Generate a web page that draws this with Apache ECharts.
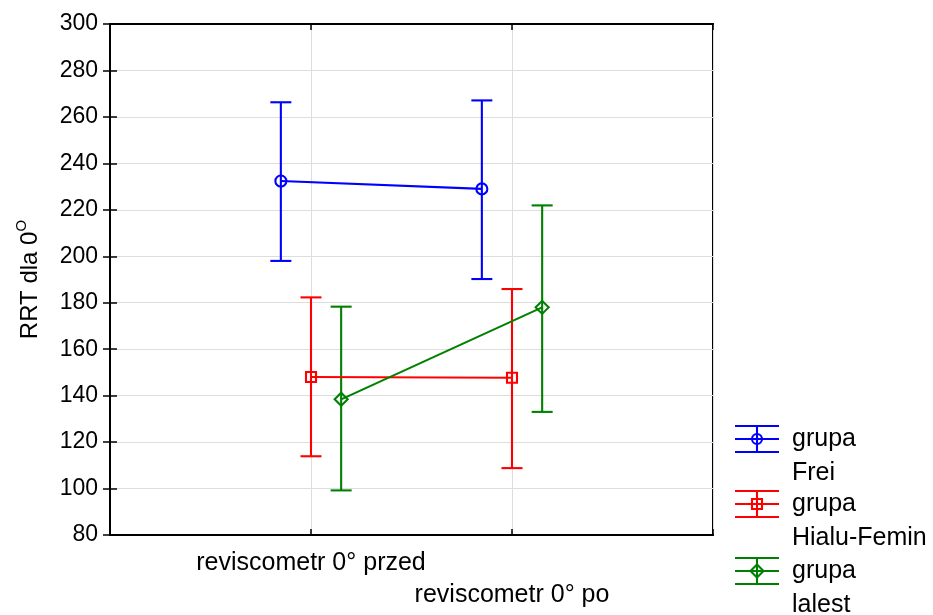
<!DOCTYPE html>
<html>
<head>
<meta charset="utf-8">
<script src="https://cdn.jsdelivr.net/npm/echarts@6/dist/echarts.min.js"></script>
<style>html,body{margin:0;padding:0;background:#fff;}#c{width:933px;height:615px;}</style>
</head>
<body>
<div id="c"></div>
<script>
// ---- data ----
const categories = ['reviscometr 0° przed', 'reviscometr 0° po'];
const groupNames = ['grupa\nFrei', 'grupa\nHialu-Femin', 'grupa\nlalest'];
const freiMean = [232.4, 229.0];
const freiLow = [198.0, 190.2];
const freiHigh = [266.3, 267.1];
const hialuMean = [148.0, 147.7];
const hialuLow = [113.9, 108.8];
const hialuHigh = [182.3, 185.9];
const ialestMean = [138.4, 178.0];
const ialestLow = [99.2, 133.0];
const ialestHigh = [178.3, 221.9];
const yMin = 80, yMax = 300, yStep = 20;
const yAxisTitle = 'RRT dla 0';
const yAxisTitleSup = 'O';

// ---- styling / layout ----
const FONT = 'Liberation Sans, Arial, sans-serif';
const LW = 2.1;
const groups = [
  {name: groupNames[0], mean: freiMean, low: freiLow, high: freiHigh, color: '#0000ff', symbol: 'circle', size: 11, offset: -0.15},
  {name: groupNames[1], mean: hialuMean, low: hialuLow, high: hialuHigh, color: '#ff0000', symbol: 'rect', size: 10, offset: 0},
  {name: groupNames[2], mean: ialestMean, low: ialestLow, high: ialestHigh, color: '#008000', symbol: 'diamond', size: 13, offset: 0.15}
];

const series = [];
groups.forEach(function (g) {
  const errData = g.mean.map(function (m, i) { return [i + 1 + g.offset, g.low[i], g.high[i]]; });
  series.push({
    type: 'custom',
    name: g.name + '_err',
    data: errData,
    encode: {x: 0, y: [1, 2]},
    silent: true,
    renderItem: function (params, api) {
      const x = api.value(0);
      const lo = api.coord([x, api.value(1)]);
      const hi = api.coord([x, api.value(2)]);
      const hw = 10.5;
      const st = {stroke: g.color, lineWidth: LW};
      return {
        type: 'group',
        children: [
          {type: 'line', shape: {x1: lo[0], y1: lo[1], x2: hi[0], y2: hi[1]}, style: st},
          {type: 'line', shape: {x1: lo[0] - hw, y1: lo[1], x2: lo[0] + hw, y2: lo[1]}, style: st},
          {type: 'line', shape: {x1: hi[0] - hw, y1: hi[1], x2: hi[0] + hw, y2: hi[1]}, style: st}
        ]
      };
    },
    z: 3
  });
  series.push({
    type: 'line',
    name: g.name,
    data: g.mean.map(function (m, i) { return [i + 1 + g.offset, m]; }),
    symbol: g.symbol,
    symbolSize: g.size,
    showAllSymbol: true,
    lineStyle: {color: g.color, width: LW},
    itemStyle: {color: 'rgba(255,255,255,0)', borderColor: g.color, borderWidth: LW},
    emphasis: {disabled: true},
    animation: false,
    z: 4
  });
});

// legend drawn as graphic
const legendGraphic = [];
const legX = 757, legTextX = 792;
const legY = [439, 504, 571];
groups.forEach(function (g, k) {
  const cy = legY[k];
  const st = {stroke: g.color, lineWidth: LW, fill: null};
  [-13, 0, 13].forEach(function (d) {
    legendGraphic.push({type: 'line', shape: {x1: legX - 22, y1: cy + d, x2: legX + 22, y2: cy + d}, style: st});
  });
  legendGraphic.push({type: 'line', shape: {x1: legX, y1: cy - 13, x2: legX, y2: cy + 13}, style: st});
  if (g.symbol === 'circle') {
    legendGraphic.push({type: 'circle', shape: {cx: legX, cy: cy, r: 5}, style: {stroke: g.color, lineWidth: LW, fill: 'rgba(0,0,0,0)'}});
  } else if (g.symbol === 'rect') {
    legendGraphic.push({type: 'rect', shape: {x: legX - 5, y: cy - 5, width: 10, height: 10}, style: {stroke: g.color, lineWidth: LW, fill: 'rgba(0,0,0,0)'}});
  } else {
    legendGraphic.push({type: 'polygon', shape: {points: [[legX, cy - 6.5], [legX + 6.5, cy], [legX, cy + 6.5], [legX - 6.5, cy]]}, style: {stroke: g.color, lineWidth: LW, fill: 'rgba(0,0,0,0)'}});
  }
  legendGraphic.push({
    type: 'text', x: legTextX, y: cy - 17,
    style: {text: g.name, font: '25px ' + FONT, fill: '#000', lineHeight: 34, verticalAlign: 'top', align: 'left'}
  });
});

const chart = echarts.init(document.getElementById('c'), null, {renderer: 'canvas'});
chart.setOption({
  animation: false,
  backgroundColor: '#fff',
  grid: {left: 110, right: 220, top: 24, bottom: 80, show: true, borderColor: '#000', borderWidth: 2, backgroundColor: 'transparent'},
  xAxis: [{
    type: 'value', min: 0, max: categories.length + 1, interval: 1, position: 'bottom',
    axisLine: {show: true, lineStyle: {color: '#000', width: 2}},
    axisTick: {show: true, inside: true, length: 6, lineStyle: {color: '#000', width: 1.5}},
    splitLine: {show: true, lineStyle: {color: '#dddddd', width: 1}},
    axisLabel: {
      show: true, margin: 12, color: '#000', fontFamily: FONT, fontSize: 25, lineHeight: 32, verticalAlign: 'top',
      showMinLabel: true, showMaxLabel: true,
      formatter: function (v) {
        const i = Math.round(v) - 1;
        if (i < 0 || i >= categories.length) return '';
        return i % 2 === 1 ? '\n' + categories[i] : categories[i];
      }
    }
  }, {
    type: 'value', min: 0, max: categories.length + 1, interval: 1, position: 'top',
    axisLine: {show: true, lineStyle: {color: '#000', width: 2}},
    axisTick: {show: true, inside: true, length: 6, lineStyle: {color: '#000', width: 1.5}},
    axisLabel: {show: false}, splitLine: {show: false}
  }],
  yAxis: [{
    type: 'value', min: yMin, max: yMax, interval: yStep, position: 'left',
    axisLine: {show: true, lineStyle: {color: '#000', width: 2}},
    axisTick: {show: true, inside: true, length: 7, lineStyle: {color: '#000', width: 1.5}},
    splitLine: {show: true, lineStyle: {color: '#dddddd', width: 1}},
    axisLabel: {margin: 12, color: '#000', fontFamily: FONT, fontSize: 23},
    name: yAxisTitle + '{s|' + yAxisTitleSup + '}',
    nameLocation: 'middle', nameGap: 64, nameRotate: 90,
    nameTextStyle: {color: '#000', fontFamily: FONT, fontSize: 24,
      rich: {s: {color: '#000', fontFamily: FONT, fontSize: 15, padding: [0, 0, 17, 0]}}}
  }, {
    type: 'value', min: yMin, max: yMax, interval: yStep, position: 'right',
    axisLine: {show: true, lineStyle: {color: '#000', width: 2}},
    axisTick: {show: true, inside: true, length: 7, lineStyle: {color: '#000', width: 1.5}},
    axisLabel: {show: false}, splitLine: {show: false}
  }],
  series: series,
  graphic: legendGraphic
});
</script>
</body>
</html>
